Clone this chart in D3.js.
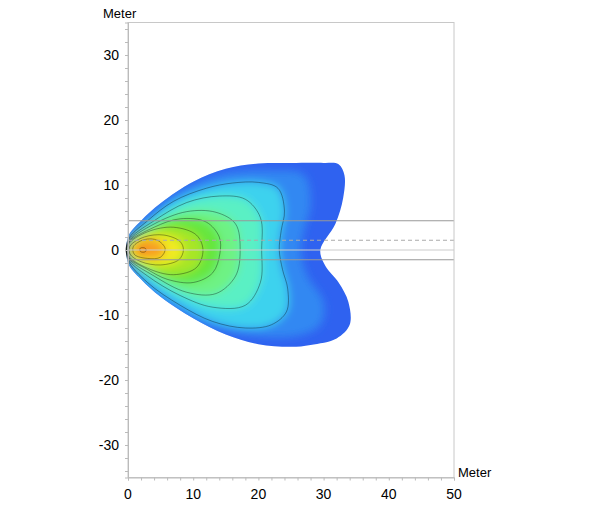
<!DOCTYPE html>
<html><head><meta charset="utf-8">
<script src="https://cdn.jsdelivr.net/npm/d3@7"></script>
<style>body{margin:0;background:#fff}text{font-family:"Liberation Sans",Arial,sans-serif}</style>
</head><body><svg id="c" width="600" height="506"></svg>
<script>
const xTicks=[0,10,20,30,40,50];
const yTicks=[-30,-20,-10,0,10,20,30];
// isolux shapes (meters), outer to inner
const boundary=[[0,2],[2,4.5],[5,7.2],[10,10.5],[15,12.5],[20,13.3],[25,13.4],[30,13.4],[32.3,13.2],[33.2,11.5],[33,8],[31.8,4],[29.5,0],[30.3,-2.5],[32.3,-5],[33.8,-8],[34,-11.5],[32,-13.6],[28,-14.6],[25,-14.9],[20,-14.5],[15,-13],[10,-10.5],[5,-7.2],[2,-4.5],[0,-2]];
const levelBlue=[[0,1.8],[3,5],[7,8.5],[12,11],[16,12],[22,12.2],[27,11.5],[28,7],[27,3],[26.5,0],[27.5,-4],[30,-8],[29.5,-11.5],[26,-13.2],[20,-13.3],[13,-12],[8,-9.5],[3,-6],[0,-1.8]];
const levelA=[[0,1.5],[3,4.5],[7,7.5],[12,9.5],[16,10.3],[20,10.4],[23,9.5],[24,6],[23.5,3],[23.2,0],[23.7,-3],[24.5,-6],[24.3,-9.5],[22,-11.5],[18,-12],[13,-11],[8,-8.5],[3,-5],[0,-1.5]];
const levelB=[[0,1.3],[4,4.5],[9,7.3],[14,8.3],[18,7.8],[20.3,5],[20.5,0],[20.3,-5],[18,-8.5],[13,-8.8],[8,-7],[3,-4],[0,-1.3]];
const levelC=[[0,1.1],[4,4],[9,5.9],[13.5,5.8],[16.5,4],[17.2,0],[16.5,-4],[13.5,-6.7],[9,-6.5],[4,-4],[0,-1.1]];
const levelD=[[0,1],[4,3.5],[8,4.8],[12,4.3],[14,2],[14.1,-0.5],[13,-3.5],[10,-5],[6,-4.5],[3,-3],[0,-1]];
const levelE=[[0,0.8],[3,2.8],[7,3.5],[10.5,2.3],[11.5,0],[10.5,-2.7],[7,-3.8],[3,-2.8],[0,-0.8]];
const levelF=[[0.3,0.6],[2.5,2],[5.5,2.3],[8,1.3],[8.5,0],[7.8,-1.5],[5,-2.3],[2,-1.8],[0.3,-0.6]];
const levelG=[[0.8,0.5],[2.5,1.6],[4.5,1.5],[5.7,0.2],[5,-1.1],[3,-1.3],[1,-0.7]];
const levelH=[[1.9,0.3],[2.6,0.3],[2.8,0],[2.6,-0.3],[2,-0.3],[1.8,0]];
const fillLevels=[levelBlue,levelA,levelB,levelC,levelD,levelE,levelF,levelG,levelH];
const fillColors=["#3088f2","#3cd2ee","#5af0c4","#6ef284","#66e63c","#a8e626","#f0ea24","#f8a020","#e83a10"];
const lineLevels=[levelA,levelB,levelC,levelD,levelE,levelF,levelG,levelH];
const guideLines=[{y:4.5,dash:null,c:"#999"},{y:1.5,dash:"4,3",c:"#aaa"},{y:0,dash:null,c:"#ccc"},{y:-1.5,dash:null,c:"#999"}];

const svg=d3.select("#c");
const x=d3.scaleLinear().domain([0,50]).range([128,454]);
const y=d3.scaleLinear().domain([-35,35]).range([477.5,22.5]);
const line=d3.line().x(d=>x(d[0])).y(d=>y(d[1])).curve(d3.curveCatmullRomClosed.alpha(0.5));

const defs=svg.append("defs");
defs.append("filter").attr("id","bl").attr("x","-20%").attr("y","-20%").attr("width","140%").attr("height","140%")
 .append("feGaussianBlur").attr("stdDeviation",4.5);
defs.append("clipPath").attr("id","cp").append("path").attr("d",line(boundary));

svg.append("path").attr("d",line(boundary)).attr("fill","#2f62f0");
const g=svg.append("g").attr("clip-path","url(#cp)").append("g").attr("filter","url(#bl)");
fillLevels.forEach((l,i)=>g.append("path").attr("d",line(l)).attr("fill",fillColors[i]));
lineLevels.forEach(l=>svg.append("path").attr("d",line(l)).attr("fill","none").attr("stroke","rgba(0,0,0,0.35)").attr("stroke-width",1));

guideLines.forEach(d=>svg.append("line").attr("x1",x(0)).attr("x2",x(50)).attr("y1",y(d.y)).attr("y2",y(d.y))
 .attr("stroke",d.c).attr("stroke-width",1).attr("stroke-dasharray",d.dash));

svg.append("rect").attr("x",x(0)).attr("y",y(35)).attr("width",x(50)-x(0)).attr("height",y(-35)-y(35))
 .attr("fill","none").attr("stroke","#c8c8c8");

const xa=svg.append("g").attr("transform",`translate(0,${y(-35)})`)
 .call(d3.axisBottom(x).tickValues(d3.range(0,51,2)).tickSize(3).tickFormat(""));
const ya=svg.append("g").attr("transform",`translate(${x(0)},0)`)
 .call(d3.axisLeft(y).tickValues(d3.range(-34,35,2)).tickSize(3).tickFormat(""));
[xa,ya].forEach(a=>{a.selectAll("path,line").attr("stroke","#bbb");});
xTicks.forEach(v=>svg.append("text").attr("x",x(v)).attr("y",499).attr("text-anchor","middle").attr("font-size",14).text(v));
yTicks.forEach(v=>svg.append("text").attr("x",119).attr("y",y(v)+5).attr("text-anchor","end").attr("font-size",14).text(v));
svg.append("text").attr("x",103).attr("y",18).attr("font-size",13).text("Meter");
svg.append("text").attr("x",458).attr("y",477).attr("font-size",13).text("Meter");
</script></body></html>
